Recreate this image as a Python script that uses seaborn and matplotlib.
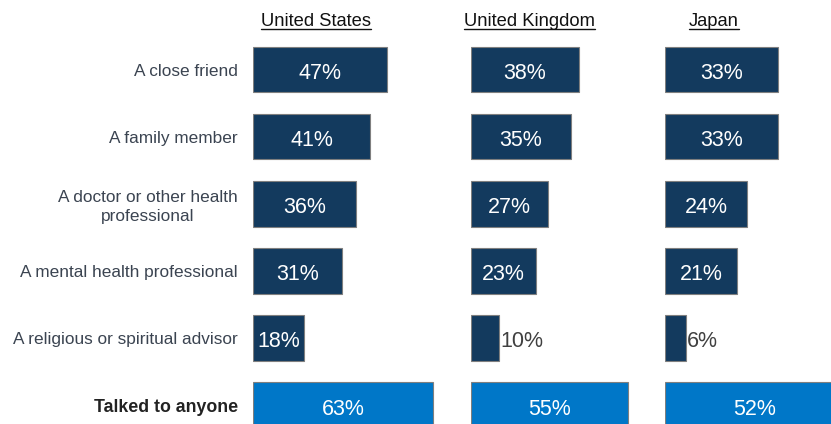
import matplotlib
matplotlib.use("Agg")
import matplotlib.pyplot as plt
import seaborn as sns
import pandas as pd
from matplotlib.lines import Line2D

categories = ["A close friend", "A family member",
              "A doctor or other health\nprofessional",
              "A mental health professional",
              "A religious or spiritual advisor",
              "Talked to anyone"]
countries = ["United States", "United Kingdom", "Japan"]
us_values = [47, 41, 36, 31, 18, 63]
uk_values = [38, 35, 27, 23, 10, 55]
japan_values = [33, 33, 24, 21, 6, 52]

sns.set_style("white")
plt.rcParams['font.family'] = ['Liberation Sans', 'DejaVu Sans']

NAVY = "#133A5E"
BLUE = "#0077C8"
W, H = 831, 424
fig = plt.figure(figsize=(W / 100, H / 100), dpi=100)

# panel geometry in pixels: (left, width, px per percent)
panels = [(253, 200, 2.855), (470.7, 180, 2.855), (665, 166, 3.43)]
series = [us_values, uk_values, japan_values]
title_cx = [316, 529, 714]

top_px = 36
row_px = 67.1
ybottom = (H - top_px) / row_px - 0.5
base_off = 9.5 / row_px  # baseline of value labels below bar centre

palette = {c: (BLUE if i == len(categories) - 1 else NAVY) for i, c in enumerate(categories)}

for k, (country, vals) in enumerate(zip(countries, series)):
    left, width, scale = panels[k]
    ax = fig.add_axes([left / W, 0, width / W, (H - top_px) / H])
    df = pd.DataFrame({"category": categories, "value": vals})
    sns.barplot(data=df, x="value", y="category", hue="category", palette=palette,
                order=categories, hue_order=categories, legend=False, orient="h",
                width=0.68, edgecolor="#7F7F7F", linewidth=0.8, ax=ax, saturation=1)
    ax.set_xlim(0, width / scale)
    ax.set_ylim(ybottom, -0.5)
    for s in ax.spines.values():
        s.set_visible(False)
    ax.set_xlabel("")
    ax.set_ylabel("")
    ax.set_xticks([])
    for i, v in enumerate(vals):
        if v >= 15:
            ax.text(v / 2, i + base_off, f"{v}%", ha="center", va="baseline",
                    color="white", fontsize=15.5)
        else:
            ax.text(v + 0.3, i + base_off, f"{v}%", ha="left", va="baseline",
                    color="#404040", fontsize=15.5)
    if k == 0:
        ax.tick_params(axis="y", length=0, pad=10.8)
        ax.set_yticks(range(len(categories)))
        ax.set_yticklabels(categories, fontsize=12.4, color="#3B4451",
                           multialignment="center", linespacing=1.3)
        lbls = ax.get_yticklabels()
        lbls[-1].set_fontweight("bold")
        lbls[-1].set_fontsize(12.8)
        lbls[-1].set_color("#222222")
    else:
        ax.set_yticks([])

# underlined panel titles
renderer = fig.canvas.get_renderer()
for cx, country in zip(title_cx, countries):
    t = fig.text(cx / W, 1 - 26 / H, country, ha="center", va="baseline",
                 fontsize=13.2, color="#111111")
    bb = t.get_window_extent(renderer=renderer)
    yline = 1 - 29.3 / H
    fig.add_artist(Line2D([bb.x0 / W, bb.x1 / W], [yline, yline], color="#111111",
                          linewidth=1.0, transform=fig.transFigure))

fig.savefig("out.png", dpi=100)
